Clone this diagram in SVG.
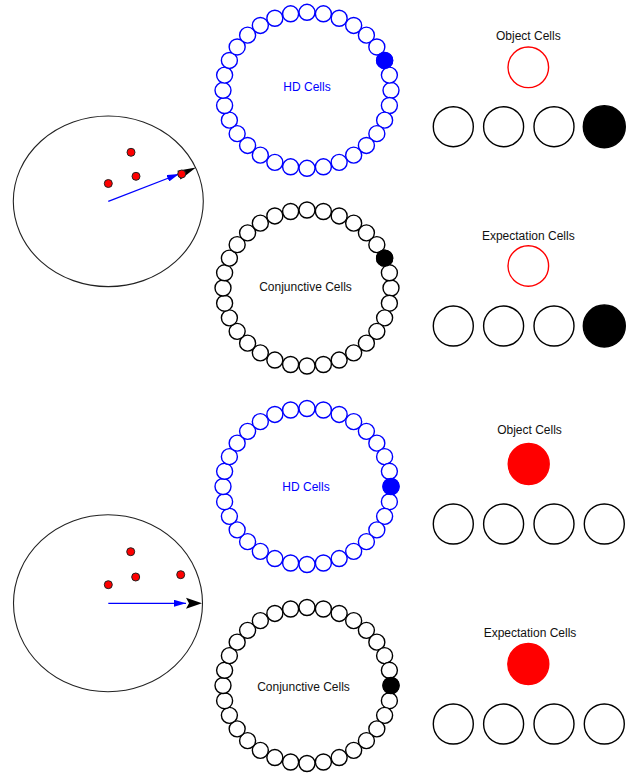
<svg xmlns="http://www.w3.org/2000/svg" xmlns:xlink="http://www.w3.org/1999/xlink" width="629" height="773" viewBox="0 0 629 773">
<style>
text{font-family:"Liberation Sans",Arial,sans-serif;font-size:12px;text-anchor:middle}
.lbl{fill:#111}
.hdt{fill:#0000ff}
.arena{fill:#fff;stroke:#222;stroke-width:1.1}
.dot{fill:#ff0000;stroke:#222;stroke-width:1}
.ringhd{fill:#fff;stroke:#0000ff;stroke-width:1.4}
.ringcj{fill:#fff;stroke:#000;stroke-width:1.4}
.onhd{fill:#0000ff;stroke:#0000ff;stroke-width:1.4}
.oncj{fill:#000;stroke:#000;stroke-width:1.4}
.cell{fill:#fff;stroke:#000;stroke-width:1.4}
.cell.on{fill:#000}
.obj{fill:#fff;stroke:#ff0000;stroke-width:1.4}
.obj.on{fill:#ff0000;stroke:#ff0000}
.hdv{stroke:#0000ff;stroke-width:1.3;fill:none}
.tip{fill:#000}
</style>
<defs>
<marker id="bh" markerUnits="userSpaceOnUse" markerWidth="12" markerHeight="7" refX="12" refY="3.5" orient="auto"><path d="M0,0 L12,3.5 L0,7 z" fill="#0000ff"/></marker>
<g id="ringcells">
<circle cx="84" cy="0" r="8"/><circle cx="82.39" cy="15.22" r="8"/><circle cx="77.61" cy="29.85" r="8"/><circle cx="69.84" cy="43.33" r="8"/><circle cx="59.4" cy="55.15" r="8"/><circle cx="46.67" cy="64.85" r="8"/><circle cx="32.15" cy="72.06" r="8"/><circle cx="16.39" cy="76.5" r="8"/><circle cx="0" cy="78" r="8"/>
<circle cx="-16.39" cy="76.5" r="8"/><circle cx="-32.15" cy="72.06" r="8"/><circle cx="-46.67" cy="64.85" r="8"/><circle cx="-59.4" cy="55.15" r="8"/><circle cx="-69.84" cy="43.33" r="8"/><circle cx="-77.61" cy="29.85" r="8"/><circle cx="-82.39" cy="15.22" r="8"/><circle cx="-84" cy="0" r="8"/>
<circle cx="-82.39" cy="-15.22" r="8"/><circle cx="-77.61" cy="-29.85" r="8"/><circle cx="-69.84" cy="-43.33" r="8"/><circle cx="-59.4" cy="-55.15" r="8"/><circle cx="-46.67" cy="-64.85" r="8"/><circle cx="-32.15" cy="-72.06" r="8"/><circle cx="-16.39" cy="-76.5" r="8"/><circle cx="0" cy="-78" r="8"/>
<circle cx="16.39" cy="-76.5" r="8"/><circle cx="32.15" cy="-72.06" r="8"/><circle cx="46.67" cy="-64.85" r="8"/><circle cx="59.4" cy="-55.15" r="8"/><circle cx="69.84" cy="-43.33" r="8"/><circle cx="77.61" cy="-29.85" r="8"/><circle cx="82.39" cy="-15.22" r="8"/>
</g>
</defs>
<rect width="629" height="773" fill="#fff"/>

<!-- Top panel -->
<g id="arena1">
<ellipse class="arena" cx="108.3" cy="201.3" rx="95" ry="85.3"/>
</g>
<g id="hd1" transform="translate(307,90.3)">
<use class="ringhd" xlink:href="#ringcells"/>
<circle class="onhd" cx="77.61" cy="-29.85" r="8"/>
<text class="hdt" x="0" y="0.7">HD Cells</text>
</g>
<g id="cj1" transform="translate(307,288)">
<use class="ringcj" xlink:href="#ringcells"/>
<circle class="oncj" cx="77.61" cy="-29.85" r="8"/>
<text class="lbl" x="-1.5" y="3">Conjunctive Cells</text>
</g>
<g id="obj1">
<text class="lbl" x="528.3" y="39.5">Object Cells</text>
<circle class="obj" cx="528.3" cy="67.3" r="20.3"/>
<circle class="cell" cx="453.3" cy="126.7" r="20"/>
<circle class="cell" cx="503.6" cy="126.7" r="20"/>
<circle class="cell" cx="554" cy="126.7" r="20"/>
<circle class="cell on" cx="604.3" cy="126.7" r="21"/>
</g>
<g id="exp1">
<text class="lbl" x="528.3" y="239.5">Expectation Cells</text>
<circle class="obj" cx="528.3" cy="266" r="20.3"/>
<circle class="cell" cx="453.3" cy="326" r="20"/>
<circle class="cell" cx="503.6" cy="326" r="20"/>
<circle class="cell" cx="554" cy="326" r="20"/>
<circle class="cell on" cx="604.3" cy="326" r="21"/>
</g>

<!-- Bottom panel -->
<g id="arena2">
<ellipse class="arena" cx="108" cy="603.3" rx="94.5" ry="88.5"/>
</g>
<g id="hd2" transform="translate(307,486.5)">
<use class="ringhd" xlink:href="#ringcells"/>
<circle class="onhd" cx="84" cy="0" r="8"/>
<text class="hdt" x="-1" y="4">HD Cells</text>
</g>
<g id="cj2" transform="translate(307,685.5)">
<use class="ringcj" xlink:href="#ringcells"/>
<circle class="oncj" cx="84" cy="0" r="8"/>
<text class="lbl" x="-3.5" y="5.5">Conjunctive Cells</text>
</g>
<g id="obj2">
<text class="lbl" x="529.5" y="434.3">Object Cells</text>
<circle class="obj on" cx="528.7" cy="464" r="20.5"/>
<circle class="cell" cx="453.3" cy="524" r="20"/>
<circle class="cell" cx="503.6" cy="524" r="20"/>
<circle class="cell" cx="554" cy="524" r="20"/>
<circle class="cell" cx="604.3" cy="524" r="20"/>
</g>
<g id="exp2">
<text class="lbl" x="530" y="636.8">Expectation Cells</text>
<circle class="obj on" cx="528.3" cy="664" r="20.5"/>
<circle class="cell" cx="453.3" cy="724" r="20"/>
<circle class="cell" cx="503.6" cy="724" r="20"/>
<circle class="cell" cx="554" cy="724" r="20"/>
<circle class="cell" cx="604.3" cy="724" r="20"/>
</g>

<!-- Connectors: head-direction vectors in the arenas -->
<g id="connectors">
<polygon class="tip" points="180.5,179.5 196,167.6 177.4,170.8"/>
<line class="hdv" x1="108.3" y1="201.3" x2="179" y2="174" marker-end="url(#bh)"/>
<polygon class="tip" points="186,597.8 202,603.3 186,608.8 189,603.3"/>
<line class="hdv" x1="108.3" y1="603.3" x2="186" y2="603.3" marker-end="url(#bh)"/>
</g>

<!-- Objects (red dots) -->
<g id="objects1">
<circle class="dot" cx="131" cy="152.3" r="4"/>
<circle class="dot" cx="136" cy="176.3" r="4"/>
<circle class="dot" cx="108.3" cy="183.5" r="4"/>
<circle class="dot" cx="181.7" cy="174" r="4"/>
</g>
<g id="objects2">
<circle class="dot" cx="130.7" cy="551.7" r="4"/>
<circle class="dot" cx="135.7" cy="577" r="4"/>
<circle class="dot" cx="108.3" cy="584.7" r="4"/>
<circle class="dot" cx="180.7" cy="574.7" r="4"/>
</g>
</svg>
